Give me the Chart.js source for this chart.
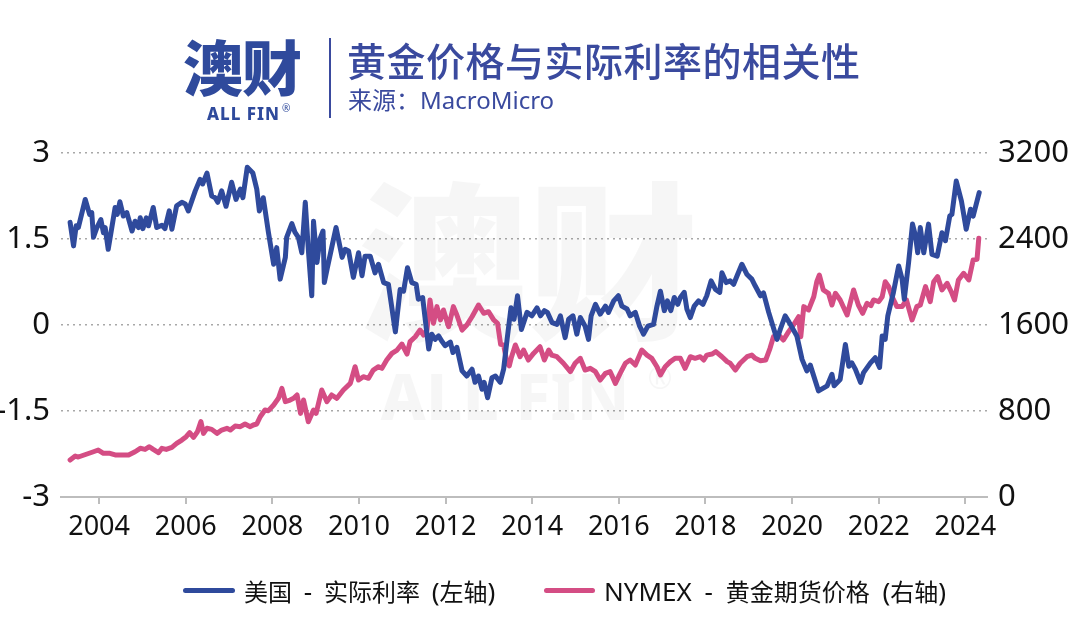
<!DOCTYPE html>
<html>
<head>
<meta charset="utf-8">
<script src="https://cdn.jsdelivr.net/npm/chart.js@4/dist/chart.umd.min.js"></script>
<style>
  html, body { margin:0; padding:0; background:#fff; }
  #wrap { position:relative; width:1080px; height:640px; overflow:hidden; font-family:"Noto Sans","Noto Sans CJK SC",sans-serif; }
  #chartBox { position:absolute; left:0; top:0; width:1080px; height:640px; }
  .abs { position:absolute; white-space:nowrap; }
  #logo { left:183px; top:30px; font-family:"Noto Sans CJK SC",sans-serif; font-weight:900; font-size:60px; line-height:70px; color:#2f4a9c; letter-spacing:-1px; }
  #logoSub { left:207px; top:97px; font-family:"Noto Sans","Noto Sans CJK SC",sans-serif; font-weight:800; font-size:17px; line-height:22px; color:#2f4a9c; letter-spacing:1px; }
  #logoSub sup { font-size:10px; font-weight:400; vertical-align:8px; margin-left:2px; }
  #divider { left:329px; top:38px; width:2px; height:80px; background:#3a4a9e; }
  #title { left:347px; top:33px; font-family:"Noto Sans CJK SC",sans-serif; font-size:39px; line-height:52px; color:#3a4a9e; font-weight:500; letter-spacing:0.5px; }
  #subtitle { left:348px; top:84px; font-family:"Noto Sans","Noto Sans CJK SC",sans-serif; font-size:24px; line-height:32px; color:#3a4a9e; }
  .legLine { position:absolute; height:5px; border-radius:3px; }
  .legText { position:absolute; font-family:"Noto Sans","Noto Sans CJK SC",sans-serif; font-size:24px; line-height:32px; color:#111; white-space:nowrap; }
  .legText .lat { font-size:26px; }
</style>
</head>
<body>
<div id="wrap">
  <div id="chartBox"><canvas id="c" width="1080" height="640"></canvas></div>
  <div id="logo" class="abs">澳财</div>
  <div id="logoSub" class="abs">ALL FIN<sup>®</sup></div>
  <div id="divider" class="abs"></div>
  <div id="title" class="abs">黄金价格与实际利率的相关性</div>
  <div id="subtitle" class="abs">来源：MacroMicro</div>
  <div class="legLine" style="left:183px; width:52px; top:588px; background:#2f4a9c;"></div>
  <div class="legText" style="left:244px; top:575px; word-spacing:5px;">美国<span class="lat"> - </span>实际利率<span class="lat"> (</span>左轴<span class="lat">)</span></div>
  <div class="legLine" style="left:544px; width:51px; top:588px; background:#d44d84;"></div>
  <div class="legText" style="left:604px; top:575px; word-spacing:6px;"><span class="lat">NYMEX - </span>黄金期货价格<span class="lat"> (</span>右轴<span class="lat">)</span></div>
</div>
<script>
// ---- Data (decimal years) ----
const realRateYears = [
  2003.33,2003.41,2003.47,2003.52,2003.68,2003.78,2003.83,2003.87,2003.95,2004.04,
  2004.10,2004.14,2004.21,2004.37,2004.42,2004.48,2004.56,2004.64,2004.76,2004.83,
  2004.91,2004.95,2005.01,2005.09,2005.14,2005.25,2005.33,2005.45,2005.52,2005.62,
  2005.68,2005.79,2005.91,2005.99,2006.06,2006.22,2006.33,2006.39,2006.49,2006.60,
  2006.68,2006.74,2006.83,2006.93,2007.06,2007.16,2007.26,2007.32,2007.42,2007.55,
  2007.64,2007.70,2007.79,2007.91,2008.03,2008.10,2008.18,2008.30,2008.33,2008.45,
  2008.52,2008.60,2008.68,2008.76,2008.83,2008.91,2008.95,2009.03,2009.10,2009.17,
  2009.20,2009.27,2009.37,2009.47,2009.61,2009.68,2009.76,2009.87,2009.99,2010.07,
  2010.14,2010.26,2010.37,2010.45,2010.57,2010.68,2010.84,2010.95,2011.03,2011.12,
  2011.22,2011.32,2011.37,2011.47,2011.61,2011.68,2011.76,2011.84,2011.91,2011.99,
  2012.11,2012.17,2012.26,2012.38,2012.49,2012.61,2012.68,2012.76,2012.84,2012.89,
  2012.97,2013.07,2013.15,2013.26,2013.34,2013.42,2013.51,2013.58,2013.66,2013.75,
  2013.88,2013.99,2014.11,2014.19,2014.28,2014.35,2014.46,2014.57,2014.65,2014.76,
  2014.84,2014.94,2015.03,2015.11,2015.22,2015.30,2015.36,2015.46,2015.57,2015.69,
  2015.76,2015.88,2015.99,2016.07,2016.19,2016.26,2016.38,2016.48,2016.57,2016.67,
  2016.80,2016.88,2016.96,2017.05,2017.12,2017.20,2017.28,2017.36,2017.42,2017.51,
  2017.57,2017.65,2017.74,2017.84,2017.94,2018.03,2018.13,2018.23,2018.33,2018.38,
  2018.48,2018.57,2018.65,2018.73,2018.84,2018.96,2019.07,2019.15,2019.27,2019.34,
  2019.46,2019.65,2019.73,2019.84,2019.93,2020.11,2020.23,2020.34,2020.42,2020.61,
  2020.81,2020.92,2020.97,2021.11,2021.23,2021.31,2021.38,2021.46,2021.58,2021.65,
  2021.81,2021.92,2022.02,2022.08,2022.15,2022.21,2022.34,2022.46,2022.54,2022.59,
  2022.69,2022.78,2022.85,2022.90,2022.96,2023.04,2023.15,2023.23,2023.35,2023.46,
  2023.54,2023.64,2023.69,2023.79,2023.91,2024.02,2024.12,2024.18,2024.32
];
const realRateValues = [
  1.79,1.38,1.73,1.70,2.19,1.93,1.96,1.53,1.70,1.84,
  1.61,1.70,1.32,2.05,1.93,2.15,1.90,1.96,1.64,1.81,
  1.70,1.87,1.68,1.87,1.73,2.05,1.70,1.74,1.68,1.99,
  1.67,2.08,2.14,2.11,1.99,2.34,2.54,2.46,2.65,2.25,
  2.22,2.14,2.34,2.07,2.49,2.19,2.37,2.22,2.75,2.65,
  2.37,1.99,2.22,1.61,1.06,1.35,0.80,1.18,1.53,1.77,
  1.62,1.53,1.26,2.14,1.32,0.51,1.81,1.09,1.50,1.64,
  0.74,1.00,1.35,1.70,1.18,1.32,1.29,0.83,1.26,0.86,
  1.20,1.20,0.91,1.06,0.74,0.71,-0.12,0.62,0.59,1.00,
  0.74,0.71,0.45,0.48,-0.42,-0.16,-0.25,-0.19,-0.28,-0.36,
  -0.30,-0.48,-0.39,-0.80,-0.89,-0.77,-1.00,-0.89,-1.12,-1.00,
  -1.27,-0.92,-0.89,-1.00,-0.77,-0.25,0.30,0.10,0.51,-0.08,
  0.22,0.16,0.30,0.16,0.25,0.22,0.04,0.01,0.16,-0.22,
  0.10,0.16,-0.16,0.13,-0.02,-0.25,0.16,0.36,0.19,0.33,
  0.22,0.42,0.51,0.33,0.28,0.16,0.22,-0.02,-0.16,-0.02,
  0.01,0.33,0.59,0.25,0.42,0.25,0.48,0.36,0.48,0.57,
  0.28,0.13,0.33,0.42,0.36,0.51,0.77,0.62,0.57,0.91,
  0.74,0.77,0.71,0.86,1.06,0.88,0.80,0.68,0.51,0.56,
  0.22,-0.25,-0.07,0.16,0.05,-0.19,-0.60,-0.80,-0.70,-1.15,
  -1.06,-0.86,-1.06,-0.95,-0.34,-0.72,-0.66,-0.77,-1.00,-0.83,
  -0.66,-0.57,-0.74,-0.19,-0.25,0.16,0.57,1.03,0.80,0.45,
  1.09,1.76,1.55,1.26,1.70,1.26,1.76,1.23,1.20,1.61,
  1.47,1.90,1.93,2.51,2.16,1.67,2.02,1.90,2.31
];
const goldYears = [
  2003.33,2003.45,2003.52,2003.72,2003.87,2003.98,2004.10,2004.25,2004.37,2004.68,
  2004.83,2004.95,2005.06,2005.16,2005.25,2005.37,2005.45,2005.55,2005.68,2005.79,
  2005.91,2006.01,2006.09,2006.18,2006.27,2006.35,2006.41,2006.49,2006.60,2006.72,
  2006.83,2006.95,2007.03,2007.14,2007.26,2007.37,2007.49,2007.56,2007.64,2007.72,
  2007.83,2007.91,2008.03,2008.14,2008.22,2008.30,2008.41,2008.49,2008.57,2008.65,
  2008.72,2008.83,2008.95,2009.01,2009.14,2009.26,2009.37,2009.49,2009.64,2009.80,
  2009.91,2009.99,2010.10,2010.22,2010.33,2010.45,2010.53,2010.64,2010.76,2010.88,
  2010.99,2011.11,2011.18,2011.30,2011.41,2011.49,2011.57,2011.64,2011.72,2011.80,
  2011.88,2011.95,2012.07,2012.18,2012.26,2012.38,2012.49,2012.61,2012.76,2012.88,
  2012.99,2013.11,2013.20,2013.27,2013.34,2013.42,2013.47,2013.52,2013.61,2013.72,
  2013.80,2013.91,2014.03,2014.18,2014.28,2014.38,2014.45,2014.57,2014.72,2014.88,
  2014.99,2015.11,2015.22,2015.34,2015.46,2015.57,2015.69,2015.80,2015.92,2016.03,
  2016.15,2016.26,2016.38,2016.53,2016.65,2016.76,2016.88,2016.96,2017.07,2017.19,
  2017.30,2017.42,2017.53,2017.65,2017.76,2017.88,2017.96,2018.03,2018.15,2018.24,
  2018.38,2018.50,2018.57,2018.69,2018.80,2018.96,2019.07,2019.15,2019.27,2019.39,
  2019.49,2019.57,2019.69,2019.80,2019.92,2020.03,2020.15,2020.20,2020.27,2020.38,
  2020.50,2020.57,2020.63,2020.72,2020.84,2020.92,2021.00,2021.11,2021.27,2021.34,
  2021.42,2021.53,2021.63,2021.73,2021.82,2021.88,2022.00,2022.08,2022.15,2022.23,
  2022.31,2022.42,2022.54,2022.64,2022.77,2022.88,2022.96,2023.08,2023.19,2023.27,
  2023.36,2023.46,2023.58,2023.69,2023.75,2023.84,2023.96,2024.08,2024.18,2024.27,
  2024.31
];
const goldValues = [
  344,381,372,400,421,437,406,406,391,391,
  421,453,443,468,443,412,453,443,462,499,
  530,561,598,555,607,701,592,639,629,592,
  623,639,623,660,654,679,654,670,679,747,
  809,803,856,918,1011,887,902,918,949,778,
  902,700,809,778,995,887,949,918,995,1057,
  1212,1088,1119,1104,1181,1212,1197,1274,1336,1367,
  1423,1330,1445,1491,1553,1507,1553,1833,1616,1771,
  1647,1740,1584,1771,1693,1553,1600,1677,1786,1709,
  1724,1647,1616,1420,1414,1244,1220,1300,1414,1305,
  1367,1274,1336,1398,1274,1367,1320,1305,1244,1166,
  1244,1290,1181,1197,1166,1088,1150,1166,1057,1150,
  1244,1274,1228,1367,1320,1290,1212,1135,1212,1259,
  1290,1290,1197,1305,1290,1305,1274,1320,1330,1352,
  1305,1259,1244,1181,1244,1305,1320,1290,1267,1274,
  1383,1491,1507,1460,1538,1600,1677,1491,1771,1740,
  1863,2003,2065,1926,1895,1786,1895,1833,1693,1802,
  1926,1786,1709,1802,1780,1833,1817,1863,2003,1957,
  1863,1771,1771,1833,1647,1771,1786,1957,1817,2003,
  2050,1926,1988,1895,1833,2019,2081,2019,2205,2211,
  2407
];
const xTickYears = [2004,2006,2008,2010,2012,2014,2016,2018,2020,2022,2024];
const leftTicks = [-3,-1.5,0,1.5,3];
const rightTicks = [0,800,1600,2400,3200];
const seriesNames = ['美国 - 实际利率 (左轴)','NYMEX - 黄金期货价格 (右轴)'];

const BLUE = '#2f4a9c';
const PINK = '#d44d84';

const watermark = {
  id:'watermark',
  beforeDatasetsDraw(chart){
    const ctx = chart.ctx;
    ctx.save();
    ctx.fillStyle = 'rgba(0,0,0,0.035)';
    ctx.textAlign = 'center';
    ctx.textBaseline = 'middle';
    ctx.font = '900 170px "Noto Sans CJK SC"';
    ctx.fillText('澳财', 528, 262);
    ctx.font = '800 64px "Noto Sans"';
    ctx.fillText('ALL FIN', 505, 402);
    ctx.font = '400 30px "Noto Sans"';
    ctx.fillText('®', 660, 380);
    ctx.restore();
  }
};

new Chart(document.getElementById('c'), {
  type:'line',
  data:{
    datasets:[
      {
        label: seriesNames[0],
        data: realRateYears.map((x,i)=>({x:x, y:realRateValues[i]})),
        yAxisID:'y',
        borderColor:BLUE, backgroundColor:BLUE,
        borderWidth:5, pointRadius:0, tension:0,
        borderJoinStyle:'round', borderCapStyle:'round'
      },
      {
        label: seriesNames[1],
        data: goldYears.map((x,i)=>({x:x, y:goldValues[i]})),
        yAxisID:'y1',
        borderColor:PINK, backgroundColor:PINK,
        borderWidth:5, pointRadius:0, tension:0,
        borderJoinStyle:'round', borderCapStyle:'round'
      }
    ]
  },
  options:{
    responsive:false,
    animation:false,
    events:[],
    layout:{ padding:{ top:153, bottom:93, left:0, right:0 } },
    plugins:{ legend:{display:false}, tooltip:{enabled:false} },
    scales:{
      x:{
        type:'linear', min:2003.12, max:2024.5,
        afterBuildTicks:(s)=>{ s.ticks = xTickYears.map(v=>({value:v})); },
        afterFit:(s)=>{ s.height = 50; },
        ticks:{ autoSkip:false, maxRotation:0, padding:7, color:'#111',
                font:{ family:'"Noto Sans"', size:27 },
                callback:(v)=>String(v) },
        grid:{ drawOnChartArea:false, drawTicks:true, tickLength:7, color:'#bdbdbd', lineWidth:2 },
        border:{ display:true, color:'#bdbdbd', width:2 }
      },
      y:{
        position:'left', min:-3, max:3,
        afterBuildTicks:(s)=>{ s.ticks = leftTicks.map(v=>({value:v})); },
        afterFit:(s)=>{ s.width = 61; },
        ticks:{ padding:11, color:'#111', font:{ family:'"Noto Sans"', size:31 },
                callback:(v)=>String(v) },
        grid:{ drawTicks:false, color:'#a8a8a8', lineWidth:1.5 },
        border:{ display:false, dash:[2,4] }
      },
      y1:{
        position:'right', min:0, max:3200,
        afterBuildTicks:(s)=>{ s.ticks = rightTicks.map(v=>({value:v})); },
        afterFit:(s)=>{ s.width = 93; },
        ticks:{ padding:11, color:'#111', font:{ family:'"Noto Sans"', size:31 },
                callback:(v)=>String(v) },
        grid:{ display:false, drawTicks:false },
        border:{ display:false }
      }
    }
  },
  plugins:[watermark]
});
</script>
</body>
</html>
